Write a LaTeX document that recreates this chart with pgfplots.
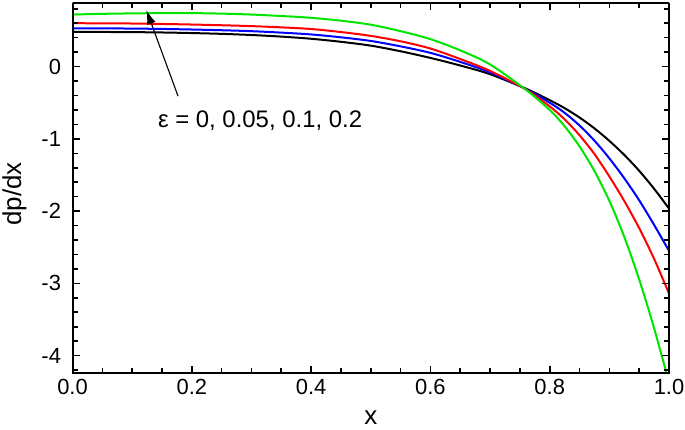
\documentclass[border=0pt]{standalone}
\usepackage{pgfplots}
\pgfplotsset{compat=1.18}
\usepackage{pgfplotstable}
\usepackage{fontspec}
\setmainfont{Liberation Sans}
\usetikzlibrary{arrows.meta}

\pgfplotstableread{
x y
0.00 0.480
0.05 0.479
0.10 0.477
0.15 0.472
0.20 0.464
0.25 0.453
0.30 0.437
0.35 0.415
0.40 0.385
0.45 0.343
0.50 0.290
0.55 0.212
0.60 0.120
0.65 0.015
0.70 -0.105
0.76 -0.305
0.80 -0.465
0.825 -0.575
0.85 -0.705
0.875 -0.855
0.90 -1.028
0.925 -1.222
0.95 -1.442
0.975 -1.690
1.00 -1.965
}\blackdata

\pgfplotstableread{
x y
0.00 0.530
0.05 0.529
0.10 0.526
0.15 0.521
0.20 0.513
0.25 0.503
0.30 0.490
0.35 0.470
0.40 0.445
0.45 0.405
0.50 0.355
0.55 0.280
0.60 0.190
0.65 0.065
0.70 -0.080
0.76 -0.310
0.80 -0.500
0.825 -0.640
0.85 -0.815
0.875 -1.025
0.90 -1.270
0.925 -1.545
0.95 -1.850
0.975 -2.190
1.00 -2.550
}\bluedata

\pgfplotstableread{
x y
0.00 0.600
0.05 0.599
0.10 0.596
0.15 0.590
0.20 0.582
0.25 0.572
0.30 0.560
0.35 0.543
0.40 0.520
0.45 0.478
0.50 0.425
0.55 0.350
0.60 0.250
0.65 0.105
0.70 -0.060
0.76 -0.315
0.80 -0.550
0.825 -0.730
0.85 -0.950
0.875 -1.210
0.90 -1.520
0.925 -1.860
0.95 -2.235
0.975 -2.660
1.00 -3.140
}\reddata

\pgfplotstableread{
x y
0.00 0.720
0.05 0.730
0.10 0.736
0.15 0.740
0.20 0.740
0.25 0.733
0.30 0.720
0.35 0.700
0.40 0.675
0.45 0.635
0.50 0.580
0.55 0.490
0.60 0.380
0.65 0.225
0.70 0.030
0.76 -0.320
0.80 -0.600
0.825 -0.825
0.85 -1.105
0.875 -1.445
0.90 -1.857
0.925 -2.357
0.95 -2.945
0.975 -3.620
1.00 -4.370
}\greendata

\begin{document}
\begin{tikzpicture}
\begin{axis}[
  at={(0,0)}, anchor=south west, scale only axis,
  width=596.5bp, height=370bp,
  xmin=0, xmax=1, ymin=-4.24, ymax=0.88,
  xtick={0,0.2,0.4,0.6,0.8,1.0},
  ytick={-4,-3,-2,-1,0},
  tick align=inside,
  major tick length=7bp,
  every major tick/.append style={draw=black, line width=1.6bp},
  xticklabel={\pgfmathprintnumber[assume math mode=true,fixed,fixed zerofill,precision=1]{\tick}},
  yticklabel={\pgfmathprintnumber[assume math mode=true,fixed,precision=0]{\tick}},
  tick label style={font=\fontsize{22}{22}\selectfont},
  xticklabel style={yshift=-3bp},
  yticklabel style={xshift=-8bp},
  xlabel={x}, ylabel={dp/dx},
  label style={font=\fontsize{26}{26}\selectfont, inner sep=0pt},
  xlabel style={at={(axis description cs:0.5,-0.138)}, anchor=base},
  ylabel style={at={(axis description cs:-0.086,0.484)}, anchor=base},
]
\addplot[black, line width=2bp, smooth] table {\blackdata};
\addplot[blue, line width=2bp, smooth] table {\bluedata};
\addplot[red, line width=2bp, smooth] table {\reddata};
\addplot[green!90!black, line width=2bp, smooth] table {\greendata};
\draw[line width=1.1bp, -{Latex[length=14bp,width=9bp]}] (axis cs:0.177,-0.41) -- (axis cs:0.124,0.78);
\node[anchor=base west, font=\fontsize{24}{24}\selectfont, inner sep=0pt] at (axis cs:0.143,-0.848) {ε = 0, 0.05, 0.1, 0.2};
% tick marks on all four sides, pointing inward
\pgfplotsinvokeforeach{0.2,0.4,0.6,0.8}{
  \draw[line width=1.6bp] (axis cs:#1,-4.24) -- ++(0bp,7.5bp);
  \draw[line width=1.6bp] (axis cs:#1,0.88) -- ++(0bp,-7.5bp);
}
\pgfplotsinvokeforeach{0.05,0.1,0.15,0.25,0.3,0.35,0.45,0.5,0.55,0.65,0.7,0.75,0.85,0.9,0.95}{
  \draw[line width=1.6bp] (axis cs:#1,-4.24) -- ++(0bp,5bp);
  \draw[line width=1.6bp] (axis cs:#1,0.88) -- ++(0bp,-5bp);
}
\pgfplotsinvokeforeach{-4,-3,-2,-1,0}{
  \draw[line width=1.6bp] (axis cs:0,#1) -- ++(7.5bp,0bp);
  \draw[line width=1.6bp] (axis cs:1,#1) -- ++(-7.5bp,0bp);
}
\pgfplotsinvokeforeach{-4.2,-3.8,-3.6,-3.4,-3.2,-2.8,-2.6,-2.4,-2.2,-1.8,-1.6,-1.4,-1.2,-0.8,-0.6,-0.4,-0.2,0.2,0.4,0.6,0.8}{
  \draw[line width=1.6bp] (axis cs:0,#1) -- ++(5bp,0bp);
  \draw[line width=1.6bp] (axis cs:1,#1) -- ++(-5bp,0bp);
}
\draw[line width=2.4bp] (rel axis cs:0,0) rectangle (rel axis cs:1,1);
\end{axis}
\pgfresetboundingbox
\useasboundingbox (-72.5bp,-56.7bp) rectangle (612.5bp,373bp);
\end{tikzpicture}
\end{document}
